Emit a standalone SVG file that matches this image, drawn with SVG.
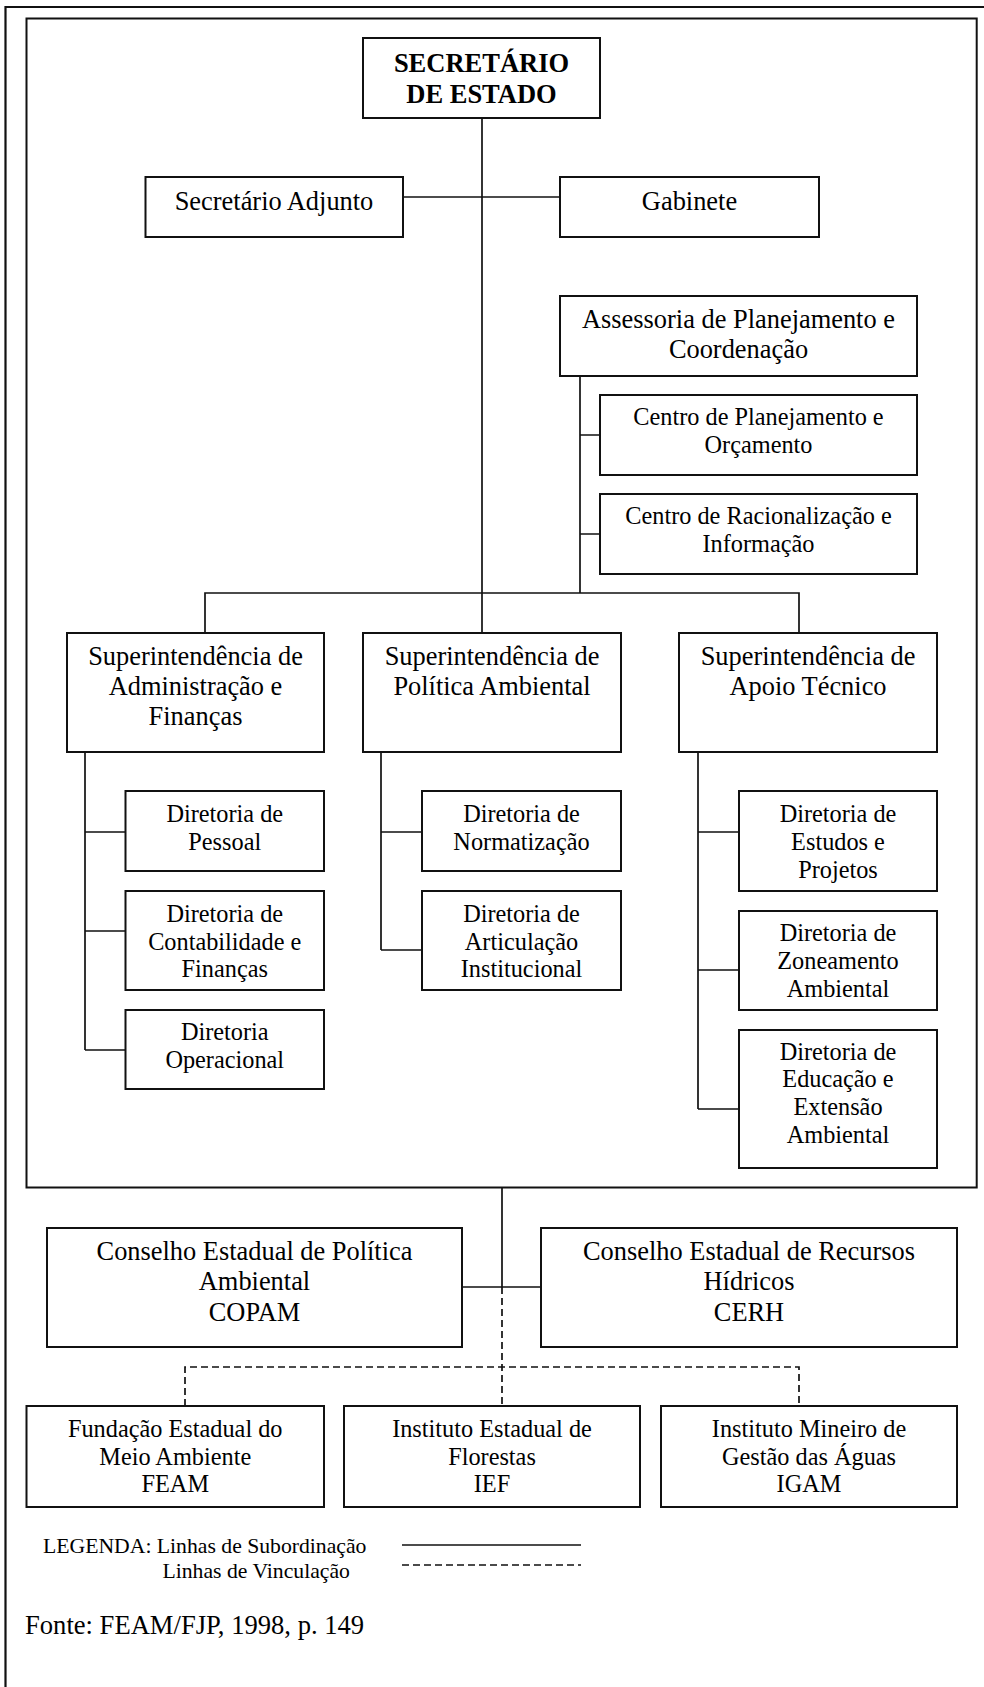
<svg xmlns="http://www.w3.org/2000/svg" width="984" height="1687" viewBox="0 0 984 1687">
<style>
.box{fill:#fff;stroke:#111;stroke-width:2}
.ln{fill:none;stroke:#111;stroke-width:1.7}
.dash{fill:none;stroke:#111;stroke-width:1.7;stroke-dasharray:7 4}
text{font-family:"Liberation Serif","Times New Roman",serif;fill:#000;text-anchor:middle}
.t{font-size:26.4px}
.s{font-size:24.3px}
.b{font-size:26.5px;font-weight:bold}
.lg{font-size:21.7px;text-anchor:start}
.f{font-size:26.6px;text-anchor:start}
</style>
<rect width="984" height="1687" fill="#fff"/>
<g id="frames">
<path class="ln" d="M5.5,1700 V7 H1000" style="stroke-width:2.2"/>
<rect x="26.5" y="18.5" width="950.2" height="1169" fill="none" stroke="#111" stroke-width="2"/>
</g>
<g id="connectors">
<path class="ln" d="M482,118 V633"/>
<path class="ln" d="M403,197 H560"/>
<path class="ln" d="M580,376 V593"/>
<path class="ln" d="M580,435 H600 M580,534 H600"/>
<path class="ln" d="M205,633 V593 H799 V633"/>
<path class="ln" d="M85,752 V1050 M85,832 H125.5 M85,931 H125.5 M85,1050 H125.5"/>
<path class="ln" d="M381,752 V950 M381,832 H422 M381,950 H422"/>
<path class="ln" d="M698,752 V1109 M698,832 H739 M698,970 H739 M698,1109 H739"/>
<path class="ln" d="M502,1188 V1287 M462,1287 H541"/>
<path class="dash" d="M502,1287 V1406"/>
<path class="dash" d="M185,1406 V1367 H799 V1406"/>
</g>
<g id="n-secretario">
<rect class="box" x="363" y="38" width="237" height="80"/>
<text class="b" x="481.5" y="72">SECRETÁRIO</text>
<text class="b" x="481.5" y="103">DE ESTADO</text>
</g>
<g id="n-adjunto">
<rect class="box" x="145.5" y="177" width="257.5" height="60"/>
<text class="t" x="274" y="210">Secretário Adjunto</text>
</g>
<g id="n-gabinete">
<rect class="box" x="560" y="177" width="259" height="60"/>
<text class="t" x="689.5" y="210">Gabinete</text>
</g>
<g id="n-assessoria">
<rect class="box" x="560" y="296" width="357" height="80"/>
<text class="t" x="738.5" y="328">Assessoria de Planejamento e</text>
<text class="t" x="738.5" y="358">Coordenação</text>
</g>
<g id="n-centro-plan">
<rect class="box" x="600" y="395" width="317" height="80"/>
<text class="s" x="758.5" y="425">Centro de Planejamento e</text>
<text class="s" x="758.5" y="453">Orçamento</text>
</g>
<g id="n-centro-rac">
<rect class="box" x="600" y="494" width="317" height="80"/>
<text class="s" x="758.5" y="524">Centro de Racionalização e</text>
<text class="s" x="758.5" y="552">Informação</text>
</g>
<g id="n-sup-adm">
<rect class="box" x="67" y="633" width="257" height="119"/>
<text class="t" x="195.5" y="665">Superintendência de</text>
<text class="t" x="195.5" y="695">Administração e</text>
<text class="t" x="195.5" y="725">Finanças</text>
</g>
<g id="n-sup-pol">
<rect class="box" x="363" y="633" width="258" height="119"/>
<text class="t" x="492" y="665">Superintendência de</text>
<text class="t" x="492" y="695">Política Ambiental</text>
</g>
<g id="n-sup-apo">
<rect class="box" x="679" y="633" width="258" height="119"/>
<text class="t" x="808" y="665">Superintendência de</text>
<text class="t" x="808" y="695">Apoio Técnico</text>
</g>
<g id="n-dir-pessoal">
<rect class="box" x="125.5" y="791" width="198.5" height="80"/>
<text class="s" x="224.75" y="822">Diretoria de</text>
<text class="s" x="224.75" y="850">Pessoal</text>
</g>
<g id="n-dir-contab">
<rect class="box" x="125.5" y="891" width="198.5" height="99"/>
<text class="s" x="224.75" y="922">Diretoria de</text>
<text class="s" x="224.75" y="950">Contabilidade e</text>
<text class="s" x="224.75" y="977">Finanças</text>
</g>
<g id="n-dir-oper">
<rect class="box" x="125.5" y="1010" width="198.5" height="79"/>
<text class="s" x="224.75" y="1040">Diretoria</text>
<text class="s" x="224.75" y="1068">Operacional</text>
</g>
<g id="n-dir-norm">
<rect class="box" x="422" y="791" width="199" height="80"/>
<text class="s" x="521.5" y="822">Diretoria de</text>
<text class="s" x="521.5" y="850">Normatização</text>
</g>
<g id="n-dir-artic">
<rect class="box" x="422" y="891" width="199" height="99"/>
<text class="s" x="521.5" y="922">Diretoria de</text>
<text class="s" x="521.5" y="950">Articulação</text>
<text class="s" x="521.5" y="977">Institucional</text>
</g>
<g id="n-dir-estudos">
<rect class="box" x="739" y="791" width="198" height="100"/>
<text class="s" x="838" y="822">Diretoria de</text>
<text class="s" x="838" y="850">Estudos e</text>
<text class="s" x="838" y="878">Projetos</text>
</g>
<g id="n-dir-zon">
<rect class="box" x="739" y="911" width="198" height="99"/>
<text class="s" x="838" y="941">Diretoria de</text>
<text class="s" x="838" y="969">Zoneamento</text>
<text class="s" x="838" y="997">Ambiental</text>
</g>
<g id="n-dir-edu">
<rect class="box" x="739" y="1030" width="198" height="138"/>
<text class="s" x="838" y="1060">Diretoria de</text>
<text class="s" x="838" y="1087">Educação e</text>
<text class="s" x="838" y="1115">Extensão</text>
<text class="s" x="838" y="1143">Ambiental</text>
</g>
<g id="n-copam">
<rect class="box" x="47" y="1228" width="415" height="119"/>
<text class="t" x="254.5" y="1260">Conselho Estadual de Política</text>
<text class="t" x="254.5" y="1290">Ambiental</text>
<text class="t" x="254.5" y="1321">COPAM</text>
</g>
<g id="n-cerh">
<rect class="box" x="541" y="1228" width="416" height="119"/>
<text class="t" x="749" y="1260">Conselho Estadual de Recursos</text>
<text class="t" x="749" y="1290">Hídricos</text>
<text class="t" x="749" y="1321">CERH</text>
</g>
<g id="n-feam">
<rect class="box" x="26.5" y="1406" width="297.5" height="101"/>
<text class="s" x="175.25" y="1437">Fundação Estadual do</text>
<text class="s" x="175.25" y="1465">Meio Ambiente</text>
<text class="s" x="175.25" y="1492">FEAM</text>
</g>
<g id="n-ief">
<rect class="box" x="344" y="1406" width="296" height="101"/>
<text class="s" x="492" y="1437">Instituto Estadual de</text>
<text class="s" x="492" y="1465">Florestas</text>
<text class="s" x="492" y="1492">IEF</text>
</g>
<g id="n-igam">
<rect class="box" x="661" y="1406" width="296" height="101"/>
<text class="s" x="809" y="1437">Instituto Mineiro de</text>
<text class="s" x="809" y="1465">Gestão das Águas</text>
<text class="s" x="809" y="1492">IGAM</text>
</g>
<g id="legend">
<text class="lg" x="43" y="1553">LEGENDA: Linhas de Subordinação</text>
<text class="lg" x="162.5" y="1578">Linhas de Vinculação</text>
<path class="ln" d="M402,1545 H581"/>
<path class="dash" d="M402,1565 H581"/>
</g>
<text class="f" x="25" y="1634">Fonte: FEAM/FJP, 1998, p. 149</text>
</svg>
